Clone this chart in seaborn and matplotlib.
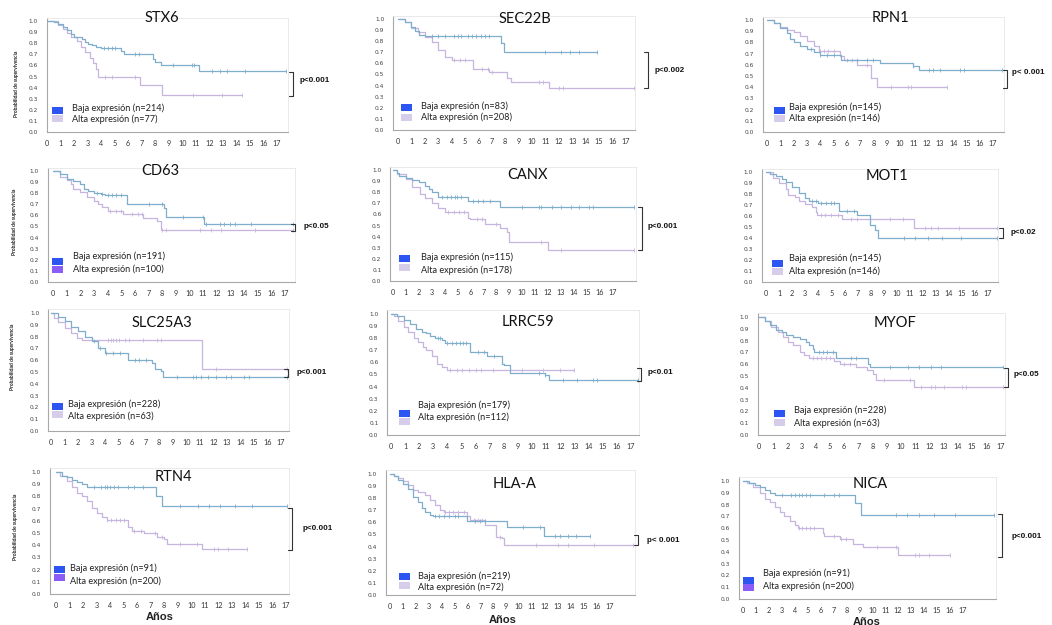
import numpy as np
import pandas as pd
import seaborn as sns
import matplotlib.pyplot as plt
from matplotlib.patches import Rectangle

GENES = ["STX6", "SEC22B", "RPN1", "CD63", "CANX", "MOT1",
         "SLC25A3", "LRRC59", "MYOF", "RTN4", "HLA-A", "NICA"]
N_BAJA = [214, 83, 145, 191, 115, 145, 228, 179, 228, 91, 219, 91]
N_ALTA = [77, 208, 146, 100, 178, 146, 63, 112, 63, 200, 72, 200]
P_TEXT = ["p<0.001", "p<0.002", "p< 0.001", "p<0.05", "p<0.001", "p<0.02",
          "p<0.001", "p<0.01", "p<0.05", "p<0.001", "p< 0.001", "p<0.001"]
YEARS = list(range(0, 18))
SURV_TICKS = [0.0, 0.1, 0.2, 0.3, 0.4, 0.5, 0.6, 0.7, 0.8, 0.9, 1.0]

# --- Kaplan-Meier curves (time of drop, survival after drop, censor times)
STX6_BAJA_T = [0, 0.5, 0.8, 1.2, 1.5, 1.8, 2.0, 2.6, 2.8, 3.0, 3.3, 3.6, 4.0, 5.5, 5.7, 7.8, 8.0, 8.4, 11.2]
STX6_BAJA_S = [1.0, 0.99, 0.97, 0.95, 0.92, 0.88, 0.86, 0.84, 0.81, 0.79, 0.78, 0.77, 0.76, 0.73, 0.70, 0.66, 0.63, 0.60, 0.55]
STX6_BAJA_C = [4.2, 4.5, 4.8, 5.0, 6.5, 6.8, 9.3, 10.7, 10.9, 12.2, 12.8, 13.3, 14.6, 17.7]
STX6_ALTA_T = [0, 0.8, 1.2, 1.5, 1.8, 2.2, 2.5, 2.8, 3.2, 3.4, 3.6, 3.8, 6.9, 8.5]
STX6_ALTA_S = [1.0, 0.96, 0.93, 0.89, 0.86, 0.82, 0.77, 0.72, 0.67, 0.62, 0.57, 0.50, 0.42, 0.33]
STX6_ALTA_C = [4.3, 4.8, 6.5, 10.8, 12.9, 14.4]

SEC22B_BAJA_T = [0, 0.5, 1.0, 1.3, 1.6, 2.0, 7.7, 7.9]
SEC22B_BAJA_S = [1.0, 0.97, 0.93, 0.89, 0.86, 0.85, 0.78, 0.70]
SEC22B_BAJA_C = [2.5, 3.0, 3.5, 4.2, 4.5, 4.7, 5.2, 5.5, 5.8, 6.2, 6.5, 6.8, 11.0, 12.2, 12.8, 13.5, 14.85]
SEC22B_ALTA_T = [0, 0.5, 1.0, 1.5, 2.0, 2.5, 3.0, 3.5, 4.0, 5.6, 6.8, 8.1, 8.4, 11.3]
SEC22B_ALTA_S = [1.0, 0.97, 0.92, 0.88, 0.84, 0.79, 0.72, 0.66, 0.63, 0.55, 0.52, 0.47, 0.43, 0.375]
SEC22B_ALTA_C = [4.2, 4.6, 5.0, 6.3, 6.7, 7.0, 10.5, 10.8, 12.0, 12.3, 17.6]

RPN1_BAJA_T = [0, 0.5, 1.0, 1.5, 1.75, 2.0, 2.5, 3.0, 3.5, 4.0, 5.6, 8.5, 11.0, 11.4]
RPN1_BAJA_S = [1.0, 0.97, 0.93, 0.88, 0.83, 0.80, 0.77, 0.74, 0.71, 0.69, 0.645, 0.615, 0.585, 0.555]
RPN1_BAJA_C = [3.3, 4.0, 4.5, 5.0, 6.8, 7.5, 8.0, 11.0, 12.2, 12.5, 13.0, 14.5, 14.8, 17.7]
RPN1_ALTA_T = [0, 0.5, 1.0, 1.5, 2.0, 2.5, 3.0, 3.5, 3.9, 5.5, 5.8, 6.8, 7.85, 8.3]
RPN1_ALTA_S = [1.0, 0.97, 0.94, 0.91, 0.895, 0.855, 0.81, 0.765, 0.72, 0.675, 0.645, 0.60, 0.48, 0.405]
RPN1_ALTA_C = [4.0, 4.3, 4.6, 5.0, 6.0, 6.4, 7.5, 9.3, 10.6, 10.8, 13.5]

CD63_BAJA_T = [0, 0.5, 1.0, 1.5, 2.0, 2.3, 2.6, 3.0, 3.5, 3.8, 5.45, 8.1, 8.3, 11.05]
CD63_BAJA_S = [1.0, 0.97, 0.93, 0.91, 0.88, 0.84, 0.82, 0.80, 0.79, 0.78, 0.70, 0.67, 0.59, 0.52]
CD63_BAJA_C = [3.2, 3.6, 4.0, 4.3, 4.6, 5.0, 7.0, 8.0, 9.5, 11.0, 11.2, 12.2, 12.5, 13.0, 13.3, 14.5, 17.55]
CD63_ALTA_T = [0, 0.5, 1.0, 1.3, 1.5, 2.0, 2.5, 3.0, 3.3, 3.6, 4.0, 5.1, 6.6, 7.6, 7.9]
CD63_ALTA_S = [1.0, 0.95, 0.92, 0.88, 0.84, 0.81, 0.77, 0.73, 0.70, 0.68, 0.64, 0.615, 0.58, 0.55, 0.47]
CD63_ALTA_C = [4.2, 4.6, 5.0, 5.8, 6.2, 6.5, 8.0, 8.3, 10.8, 11.6, 12.3, 14.8, 17.55]

CANX_BAJA_T = [0, 0.3, 0.5, 1.0, 1.5, 2.0, 2.5, 2.8, 3.0, 3.5, 5.8, 8.3]
CANX_BAJA_S = [1.0, 0.97, 0.95, 0.93, 0.91, 0.89, 0.86, 0.83, 0.80, 0.76, 0.72, 0.665]
CANX_BAJA_C = [3.8, 4.2, 4.5, 4.8, 5.0, 5.3, 6.2, 6.6, 7.0, 7.5, 10.0, 11.3, 11.5, 12.3, 13.0, 13.8, 14.4, 15.2, 15.5, 18.7]
CANX_ALTA_T = [0, 0.3, 1.0, 1.5, 2.1, 2.5, 3.0, 3.5, 4.0, 5.8, 6.0, 7.1, 8.3, 8.8, 9.0, 12.0]
CANX_ALTA_S = [1.0, 0.96, 0.92, 0.85, 0.78, 0.75, 0.70, 0.66, 0.62, 0.57, 0.555, 0.51, 0.475, 0.445, 0.355, 0.28]
CANX_ALTA_C = [4.3, 4.7, 5.1, 5.5, 6.5, 6.9, 8.0, 11.5, 13.0, 18.7]

MOT1_BAJA_T = [0, 0.3, 0.8, 1.2, 1.5, 2.0, 2.5, 3.0, 3.3, 4.0, 5.6, 6.95, 7.95, 8.35, 8.6]
MOT1_BAJA_S = [1.0, 0.98, 0.96, 0.94, 0.91, 0.86, 0.81, 0.76, 0.735, 0.72, 0.65, 0.605, 0.52, 0.475, 0.40]
MOT1_BAJA_C = [3.5, 3.8, 4.2, 4.6, 5.0, 5.2, 6.2, 6.7, 10.6, 11.4, 12.4, 13.5, 14.9, 17.65]
MOT1_ALTA_T = [0, 0.5, 1.0, 1.5, 1.7, 2.2, 2.5, 3.0, 3.5, 3.8, 3.9, 5.85, 11.3]
MOT1_ALTA_S = [1.0, 0.95, 0.90, 0.85, 0.79, 0.77, 0.74, 0.71, 0.68, 0.64, 0.61, 0.575, 0.495]
MOT1_ALTA_C = [4.2, 4.5, 5.0, 5.5, 6.5, 7.0, 8.0, 9.5, 10.5, 12.2, 12.6, 13.2, 14.8, 17.65]

SLC25A3_BAJA_T = [0, 0.5, 1.0, 1.5, 2.0, 2.5, 3.0, 3.5, 4.0, 5.7, 7.45, 7.7, 8.1, 8.3]
SLC25A3_BAJA_S = [1.0, 0.97, 0.93, 0.88, 0.845, 0.80, 0.76, 0.70, 0.66, 0.60, 0.575, 0.525, 0.505, 0.456]
SLC25A3_BAJA_C = [3.2, 3.6, 4.1, 4.6, 5.1, 6.2, 6.5, 7.0, 9.3, 10.5, 10.7, 11.1, 11.6, 12.2, 12.9, 13.3, 14.3, 14.6, 17.45]
SLC25A3_ALTA_T = [0, 0.2, 0.5, 1.0, 1.5, 1.9, 2.3, 11.15]
SLC25A3_ALTA_S = [1.0, 0.96, 0.92, 0.87, 0.83, 0.79, 0.775, 0.527]
SLC25A3_ALTA_C = [4.2, 4.4, 4.6, 4.8, 5.0, 5.5, 5.8, 6.8, 7.8, 8.1, 12.2, 17.45]

LRRC59_BAJA_T = [0, 0.4, 0.9, 1.35, 1.8, 2.2, 2.5, 2.75, 3.1, 3.6, 3.8, 5.6, 6.8, 7.85, 8.0, 8.45, 10.9, 11.2]
LRRC59_BAJA_S = [1.0, 0.98, 0.95, 0.92, 0.88, 0.85, 0.84, 0.82, 0.80, 0.785, 0.76, 0.69, 0.65, 0.59, 0.58, 0.51, 0.50, 0.455]
LRRC59_BAJA_C = [3.3, 3.5, 4.0, 4.3, 4.6, 4.9, 5.1, 5.3, 6.2, 6.6, 7.3, 10.5, 10.9, 12.2, 13.2, 14.3, 14.6, 17.5]
LRRC59_ALTA_T = [0, 0.2, 0.5, 0.9, 1.2, 1.6, 1.95, 2.3, 2.5, 2.9, 3.25, 3.6, 3.95]
LRRC59_ALTA_S = [1.0, 0.98, 0.94, 0.895, 0.85, 0.80, 0.77, 0.73, 0.70, 0.65, 0.59, 0.565, 0.537]
LRRC59_ALTA_C = [4.2, 4.7, 5.0, 5.5, 6.0, 6.4, 7.2, 9.3, 10.8, 12.0, 12.95]

MYOF_BAJA_T = [0, 0.4, 0.75, 1.2, 1.6, 1.9, 2.4, 2.9, 3.3, 3.55, 3.8, 3.9, 5.45, 7.65, 7.8]
MYOF_BAJA_S = [1.0, 0.97, 0.93, 0.89, 0.87, 0.845, 0.83, 0.81, 0.79, 0.76, 0.73, 0.70, 0.65, 0.605, 0.577]
MYOF_BAJA_C = [4.2, 4.5, 4.8, 5.2, 6.5, 6.8, 9.2, 10.5, 11.3, 12.1, 12.8, 17.2]
MYOF_ALTA_T = [0, 0.4, 0.85, 1.35, 1.7, 2.05, 2.4, 2.9, 3.2, 3.55, 5.3, 5.7, 6.85, 7.6, 8.0, 8.25, 10.95]
MYOF_ALTA_S = [1.0, 0.965, 0.915, 0.875, 0.83, 0.79, 0.76, 0.705, 0.675, 0.65, 0.625, 0.605, 0.577, 0.55, 0.52, 0.465, 0.403]
MYOF_ALTA_C = [3.8, 4.1, 4.4, 4.7, 5.0, 6.0, 6.4, 8.8, 10.6, 11.4, 12.1, 12.4, 13.0, 14.3, 14.6, 17.2]

RTN4_BAJA_T = [0, 0.45, 0.8, 1.2, 1.55, 1.9, 2.3, 7.4, 7.85]
RTN4_BAJA_S = [1.0, 0.97, 0.96, 0.935, 0.915, 0.90, 0.88, 0.80, 0.72]
RTN4_BAJA_C = [2.8, 3.3, 3.6, 3.8, 4.0, 4.3, 4.6, 5.3, 5.8, 6.4, 9.2, 10.5, 11.3, 12.1, 13.2, 14.5, 17.1]
RTN4_ALTA_T = [0, 0.3, 0.8, 1.2, 1.55, 1.9, 2.3, 2.65, 3.0, 3.4, 3.75, 5.35, 5.6, 6.5, 7.45, 8.0, 8.2, 10.8]
RTN4_ALTA_S = [1.0, 0.97, 0.93, 0.875, 0.83, 0.80, 0.76, 0.705, 0.66, 0.63, 0.61, 0.55, 0.52, 0.50, 0.47, 0.45, 0.41, 0.37]
RTN4_ALTA_C = [3.8, 4.1, 4.4, 4.7, 5.0, 5.8, 6.3, 7.3, 7.8, 9.2, 10.4, 11.7, 12.0, 12.7, 14.1]

HLAA_BAJA_T = [0, 0.3, 0.65, 1.0, 1.4, 1.8, 2.2, 2.45, 2.7, 3.1, 3.35, 6.0, 9.05, 11.9]
HLAA_BAJA_S = [1.0, 0.985, 0.95, 0.92, 0.88, 0.81, 0.77, 0.72, 0.69, 0.66, 0.65, 0.61, 0.56, 0.49]
HLAA_BAJA_C = [3.5, 3.8, 4.2, 4.6, 5.0, 5.3, 6.6, 7.0, 7.4, 10.3, 11.6, 12.8, 13.2, 13.8, 14.4, 15.5]
HLAA_ALTA_T = [0, 0.3, 0.65, 1.0, 1.4, 1.8, 2.2, 2.7, 3.1, 3.5, 3.9, 4.15, 6.0, 6.2, 7.35, 8.25, 8.65, 8.85]
HLAA_ALTA_S = [1.0, 0.985, 0.97, 0.945, 0.91, 0.87, 0.85, 0.83, 0.785, 0.745, 0.70, 0.69, 0.65, 0.62, 0.58, 0.48, 0.47, 0.41]
HLAA_ALTA_C = [4.3, 4.6, 4.9, 5.3, 5.7, 6.5, 6.8, 7.1, 8.5, 11.3, 13.0, 13.8, 15.8, 18.85]

NICA_BAJA_T = [0, 0.5, 0.9, 1.3, 1.7, 2.05, 2.45, 8.65, 9.15]
NICA_BAJA_S = [1.0, 0.98, 0.965, 0.945, 0.92, 0.90, 0.88, 0.81, 0.71]
NICA_BAJA_C = [3.0, 3.7, 4.0, 4.3, 4.6, 4.9, 5.2, 6.3, 7.0, 7.4, 11.8, 12.7, 13.6, 14.8, 16.4, 19.4]
NICA_ALTA_T = [0, 0.3, 0.8, 1.3, 1.7, 2.05, 2.45, 2.85, 3.2, 3.6, 4.0, 4.25, 6.2, 6.3, 7.5, 8.5, 9.3, 12.0]
NICA_ALTA_S = [1.0, 0.98, 0.95, 0.895, 0.845, 0.82, 0.78, 0.74, 0.70, 0.665, 0.63, 0.60, 0.56, 0.535, 0.51, 0.47, 0.44, 0.375]
NICA_ALTA_C = [4.3, 4.6, 4.9, 5.2, 5.5, 7.0, 7.6, 8.0, 10.4, 11.8, 13.3, 13.6, 14.4, 16.0]

CURVES = [
    (STX6_BAJA_T, STX6_BAJA_S, STX6_BAJA_C, STX6_ALTA_T, STX6_ALTA_S, STX6_ALTA_C),
    (SEC22B_BAJA_T, SEC22B_BAJA_S, SEC22B_BAJA_C, SEC22B_ALTA_T, SEC22B_ALTA_S, SEC22B_ALTA_C),
    (RPN1_BAJA_T, RPN1_BAJA_S, RPN1_BAJA_C, RPN1_ALTA_T, RPN1_ALTA_S, RPN1_ALTA_C),
    (CD63_BAJA_T, CD63_BAJA_S, CD63_BAJA_C, CD63_ALTA_T, CD63_ALTA_S, CD63_ALTA_C),
    (CANX_BAJA_T, CANX_BAJA_S, CANX_BAJA_C, CANX_ALTA_T, CANX_ALTA_S, CANX_ALTA_C),
    (MOT1_BAJA_T, MOT1_BAJA_S, MOT1_BAJA_C, MOT1_ALTA_T, MOT1_ALTA_S, MOT1_ALTA_C),
    (SLC25A3_BAJA_T, SLC25A3_BAJA_S, SLC25A3_BAJA_C, SLC25A3_ALTA_T, SLC25A3_ALTA_S, SLC25A3_ALTA_C),
    (LRRC59_BAJA_T, LRRC59_BAJA_S, LRRC59_BAJA_C, LRRC59_ALTA_T, LRRC59_ALTA_S, LRRC59_ALTA_C),
    (MYOF_BAJA_T, MYOF_BAJA_S, MYOF_BAJA_C, MYOF_ALTA_T, MYOF_ALTA_S, MYOF_ALTA_C),
    (RTN4_BAJA_T, RTN4_BAJA_S, RTN4_BAJA_C, RTN4_ALTA_T, RTN4_ALTA_S, RTN4_ALTA_C),
    (HLAA_BAJA_T, HLAA_BAJA_S, HLAA_BAJA_C, HLAA_ALTA_T, HLAA_ALTA_S, HLAA_ALTA_C),
    (NICA_BAJA_T, NICA_BAJA_S, NICA_BAJA_C, NICA_ALTA_T, NICA_ALTA_S, NICA_ALTA_C),
]

# --- layout, in pixels of the 1052x625 picture
# (x of year 0, px per year, y of surv 0, y of surv 1, xmin, xmax)
BOX = [(47, 13.53, 132, 21, 0.0, 17.8), (398, 13.4, 130, 19, -0.35, 17.7), (767, 13.3, 132, 20, -0.3, 17.8),
       (53, 13.65, 282, 171, -0.4, 17.7), (393, 12.9, 281, 170, -0.2, 18.8), (766, 13.06, 282, 172, -0.3, 17.8),
       (51, 13.53, 431, 313, -0.2, 17.6), (391, 14.1, 435, 314, -0.25, 17.6), (759, 14.2, 435, 317, -0.1, 17.3),
       (56, 13.53, 594, 472, -0.45, 17.2), (390, 12.9, 595, 474, -0.3, 19.0), (743, 12.93, 599, 481, -0.3, 19.6)]
TITLE_XY = [(162, 18), (525, 19), (890, 18), (160, 171), (528, 175), (887, 176),
            (162, 323), (528, 322), (895, 323), (173, 477), (515, 484), (870, 484)]
# (patch x, patch y baja, patch y alta, text x, text y baja, text y alta)
LEG = [(52, 110, 118, 72, 108, 119), (401, 107, 117, 421, 106, 117), (774, 110, 118, 789, 107, 118),
       (52, 261, 269, 73, 256, 269), (399, 258, 267, 421, 257, 270), (772, 263, 271, 789, 258, 271),
       (52, 406, 414, 68, 404, 416), (399, 413, 421, 418, 405, 417), (774, 413, 422, 794, 410, 423),
       (54, 569, 577, 70, 568, 581), (399, 576, 585, 418, 576, 587), (743, 580, 587, 763, 573, 586)]
ALTA_PATCH = ["#d6cdea", "#d6cdea", "#d6cdea", "#8b5cf6", "#d6cdea", "#d6cdea",
              "#d6cdea", "#d6cdea", "#d6cdea", "#8b5cf6", "#d6cdea", "#8b5cf6"]
# (bracket x, top y, bottom y, text x, text y)
PVAL = [(293, 72, 96, 300, 81), (648, 52, 88, 655, 70), (1007, 70, 88, 1012, 73),
        (295, 224, 231, 304, 226), (642, 207, 250, 648, 226), (1003, 228, 238, 1011, 232),
        (288, 369, 377, 297, 372), (641, 368, 381, 648, 373), (1008, 368, 387, 1014, 375),
        (292, 508, 550, 303, 529), (638, 535, 545, 647, 540), (1002, 514, 557, 1012, 537)]
YLAB_XY = [(17, 84), (15, 222), (13, 357), (16, 527)]
ANOS_XY = [(160, 617), (503, 620), (867, 622)]

W, H = 1052, 625
BAJA_COL = "#7eaecb"
ALTA_COL = "#c6b6df"

sns.set_theme(style="white")
plt.rcParams["font.family"] = ["Lato", "DejaVu Sans"]

fig = plt.figure(figsize=(W / 100, H / 100), dpi=100)


def step_frame(t, s, cens):
    end = max(max(cens), t[-1])
    tt = list(t) + [end]
    ss = list(s) + [s[-1]]
    return pd.DataFrame({"t": tt, "s": ss})


def surv_at(t, s, times):
    idx = np.searchsorted(np.array(t), np.array(times), side="right") - 1
    return np.array(s)[idx]


for i, gene in enumerate(GENES):
    x0, ppy, y0, y1, xmin, xmax = BOX[i]
    ytop = 1.03
    left = x0 + xmin * ppy
    right = x0 + xmax * ppy
    top = y0 - ytop * (y0 - y1)
    ax = fig.add_axes([left / W, 1 - y0 / H, (right - left) / W, (y0 - top) / H])
    ax.set_xlim(xmin, xmax)
    ax.set_ylim(0, ytop)

    bt, bs, bc, at, as_, ac = CURVES[i]
    for t, s, c, col in [(at, as_, ac, ALTA_COL), (bt, bs, bc, BAJA_COL)]:
        df = step_frame(t, s, c)
        sns.lineplot(data=df, x="t", y="s", ax=ax, color=col, lw=0.9,
                     drawstyle="steps-post", estimator=None, sort=False, legend=False)
        ax.plot(c, surv_at(t, s, c), ls="none", marker="|", ms=2.6, mew=0.6, color=col)

    ax.set_xlabel("")
    ax.set_ylabel("")
    ax.set_xticks(YEARS)
    ax.set_yticks(SURV_TICKS)
    ax.set_xticklabels([str(v) for v in YEARS], fontsize=5.2, color="#333333")
    ax.set_yticklabels([f"{v:.1f}" for v in SURV_TICKS], fontsize=4.2,
                       family=["DejaVu Sans"], color="#444444")
    ax.tick_params(axis="both", length=1.5, width=0.5, color="#999999", direction="out", pad=4)
    ax.tick_params(axis="y", pad=5)
    for side in ["left", "bottom"]:
        ax.spines[side].set_color("#a8a8a8")
        ax.spines[side].set_linewidth(0.8)
    for side in ["top", "right"]:
        ax.spines[side].set_color("#e6e6e6")
        ax.spines[side].set_linewidth(0.6)

# overlay in pixel coordinates for titles, legends and p values
ov = fig.add_axes([0, 0, 1, 1], facecolor="none")
ov.set_xlim(0, W)
ov.set_ylim(H, 0)
ov.axis("off")

for i, gene in enumerate(GENES):
    tx, ty = TITLE_XY[i]
    ov.text(tx, ty, gene, fontsize=10.5, ha="center", va="center", color="#111111")

    px, pyb, pya, lx, lyb, lya = LEG[i]
    ov.add_patch(Rectangle((px, pyb - 3.5), 11, 7, color="#2d55f2", lw=0))
    ov.add_patch(Rectangle((px, pya - 3.5), 11, 7, color=ALTA_PATCH[i], lw=0))
    ov.text(lx, lyb, f"Baja expresión (n={N_BAJA[i]})", fontsize=6.6, va="center", color="#222222")
    ov.text(lx, lya, f"Alta expresión (n={N_ALTA[i]})", fontsize=6.6, va="center", color="#222222")

    bx, byt, byb, ptx, pty = PVAL[i]
    ov.plot([bx - 4, bx, bx, bx - 4], [byt, byt, byb, byb], color="#333333", lw=0.8)
    ov.text(ptx, pty, P_TEXT[i], fontsize=5.8, fontweight="bold", va="center",
            family=["Liberation Sans Narrow", "Liberation Sans", "DejaVu Sans"], color="#111111")

for x, y in YLAB_XY:
    ov.text(x, y, "Probabilidad de supervivencia", fontsize=3.6, fontweight="bold",
            rotation=90, ha="center", va="center", color="#222222")

for x, y in ANOS_XY:
    ov.text(x, y, "Años", fontsize=8, fontweight="bold", ha="center", va="center",
            family=["Liberation Sans Narrow", "Liberation Sans", "DejaVu Sans"], color="#222222")

fig.savefig("out.png", dpi=100)
